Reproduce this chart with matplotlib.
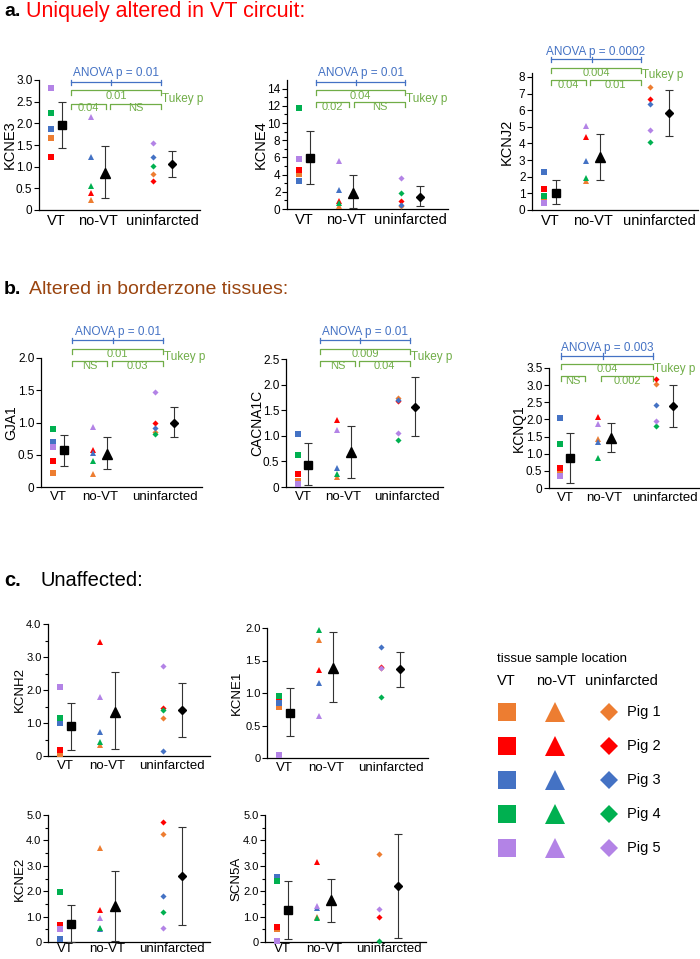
import numpy as np
import matplotlib
matplotlib.use('Agg')
import matplotlib.pyplot as plt
from matplotlib import transforms

plt.rcParams['font.family'] = ['Liberation Sans', 'DejaVu Sans']

W, H = 700, 959

groups = ['VT', 'no-VT', 'uninfarcted']
pigs = ['Pig 1', 'Pig 2', 'Pig 3', 'Pig 4', 'Pig 5']
pig_colors = ['#ED7D31', '#FF0000', '#4472C4', '#00B050', '#B383E6']
group_markers = ['s', '^', 'D']

# each gene: values per pig (Pig 1..5) for VT, no-VT, uninfarcted,
# then group mean and lower / upper end of the error bar
kcne3_pts = [[1.66, 1.22, 1.87, 2.24, 2.82],
             [0.23, 0.39, 1.22, 0.55, 2.15],
             [0.83, 0.68, 1.22, 1.02, 1.55]]
kcne3_mean = [1.96, 0.86, 1.06]
kcne3_lo = [1.43, 0.27, 0.77]
kcne3_hi = [2.49, 1.48, 1.37]

kcne4_pts = [[4.1, 4.5, 3.3, 11.8, 5.8],
             [0.35, 0.9, 2.2, 0.7, 5.6],
             [0.3, 0.95, 0.5, 1.85, 3.6]]
kcne4_mean = [5.95, 1.9, 1.4]
kcne4_lo = [2.9, 0.1, 0.35]
kcne4_hi = [9.1, 3.9, 2.65]

kcnj2_pts = [[0.65, 1.25, 2.3, 0.85, 0.4],
             [1.75, 4.4, 2.95, 1.9, 5.05],
             [7.4, 6.7, 6.4, 4.1, 4.8]]
kcnj2_mean = [1.05, 3.2, 5.85]
kcnj2_lo = [0.35, 1.8, 4.45]
kcnj2_hi = [1.8, 4.6, 7.2]

gja1_pts = [[0.22, 0.40, 0.69, 0.90, 0.62],
            [0.20, 0.57, 0.52, 0.41, 0.93],
            [0.85, 1.00, 0.92, 0.82, 1.47]]
gja1_mean = [0.57, 0.51, 1.0]
gja1_lo = [0.33, 0.28, 0.77]
gja1_hi = [0.81, 0.77, 1.24]

cacna1c_pts = [[0.12, 0.25, 1.03, 0.62, 0.05],
               [0.20, 1.30, 0.37, 0.25, 1.12],
               [1.74, 1.67, 1.70, 0.91, 1.06]]
cacna1c_mean = [0.43, 0.68, 1.57]
cacna1c_lo = [0.03, 0.17, 1.0]
cacna1c_hi = [0.85, 1.19, 2.15]

kcnq1_pts = [[0.50, 0.58, 2.03, 1.28, 0.35],
             [1.42, 2.06, 1.34, 0.87, 1.86],
             [3.02, 3.19, 2.41, 1.81, 1.95]]
kcnq1_mean = [0.87, 1.45, 2.38]
kcnq1_lo = [0.15, 1.04, 1.79]
kcnq1_hi = [1.59, 1.9, 2.99]

kcnh2_pts = [[0.06, 0.18, 1.0, 1.15, 2.08],
             [0.33, 3.45, 0.72, 0.43, 1.78],
             [1.14, 1.46, 0.15, 1.39, 2.72]]
kcnh2_mean = [0.9, 1.32, 1.39]
kcnh2_lo = [0.18, 0.2, 0.58]
kcnh2_hi = [1.62, 2.55, 2.22]

kcne1_pts = [[0.79, 0.88, 0.84, 0.96, 0.05],
             [1.81, 1.35, 1.15, 1.97, 0.65],
             [1.38, 1.40, 1.71, 0.94, 1.38]]
kcne1_mean = [0.70, 1.38, 1.37]
kcne1_lo = [0.34, 0.86, 1.1]
kcne1_hi = [1.08, 1.94, 1.63]

kcne2_pts = [[0.55, 0.65, 0.1, 1.95, 0.5],
             [3.7, 1.25, 0.5, 0.55, 0.95],
             [4.27, 4.73, 1.8, 1.2, 0.55]]
kcne2_mean = [0.7, 1.42, 2.6]
kcne2_lo = [0.0, 0.05, 0.65]
kcne2_hi = [1.45, 2.8, 4.54]

scn5a_pts = [[0.5, 0.6, 2.55, 2.4, 0.05],
             [1.0, 3.15, 1.35, 0.95, 1.4],
             [3.48, 1.0, np.nan, 0.05, 1.3]]
scn5a_mean = [1.25, 1.65, 2.2]
scn5a_lo = [0.1, 0.8, 0.15]
scn5a_hi = [2.4, 2.5, 4.25]

# statistics text
anova_labels = ['ANOVA p = 0.01', 'ANOVA p = 0.01', 'ANOVA p = 0.0002',
                'ANOVA p = 0.01', 'ANOVA p = 0.01', 'ANOVA p = 0.003']
tukey_outer = ['0.01', '0.04', '0.004', '0.01', '0.009', '0.04']
tukey_left = ['0.04', '0.02', '0.04', 'NS', 'NS', 'NS']
tukey_right = ['NS', 'NS', '0.01', '0.03', '0.04', '0.002']

# category centres and offsets of the pig points / mean marker
cx = np.array([1.0, 2.0, 3.55])
pt_off = np.array([-0.13, -0.17, -0.22])
mn_off = np.array([0.13, 0.17, 0.22])

fig = plt.figure(figsize=(W / 100, H / 100), dpi=100)

BLUE = '#4472C4'
GREEN = '#70AD47'


def add_ax(l, t, r, b):
    return fig.add_axes([l / W, 1 - b / H, (r - l) / W, (b - t) / H])


def draw_panel(ax, name, pts, mean, lo, hi, ylim, yticks, yticklabels,
               tick_fs, lab_fs, xfs, lab_x, minor=None, xpad=3):
    for g in range(3):
        for p in range(5):
            ax.plot(cx[g] + pt_off[g], pts[g][p], ls='none',
                    marker=group_markers[g], color=pig_colors[p],
                    ms=[4.0, 4.6, 3.1][g], mew=0, clip_on=False, zorder=3)
        ax.errorbar(cx[g] + mn_off[g], mean[g],
                    yerr=[[mean[g] - lo[g]], [hi[g] - mean[g]]],
                    fmt=group_markers[g], color='black', ms=[6.4, 7.2, 4.4][g],
                    ecolor='#333333', elinewidth=0.8, capsize=3, capthick=0.8,
                    clip_on=False, zorder=4)
    ax.set_xlim(0.58, 4.45)
    ax.set_ylim(*ylim)
    ax.set_yticks(yticks)
    ax.set_yticklabels(yticklabels, fontsize=tick_fs)
    if minor is not None:
        ax.set_yticks(minor, minor=True)
    ax.set_xticks(cx)
    ax.set_xticklabels(groups, fontsize=xfs)
    ax.tick_params(axis='x', length=0, pad=xpad)
    ax.tick_params(axis='y', which='both', direction='out', length=3.5,
                   width=0.8, pad=1.2)
    ax.tick_params(axis='y', which='minor', length=2)
    for s in ['top', 'right']:
        ax.spines[s].set_visible(False)
    for s in ['left', 'bottom']:
        ax.spines[s].set_linewidth(0.9)
    ax.set_ylabel(name, fontsize=lab_fs, va='center')
    tr = transforms.blended_transform_factory(fig.transFigure, ax.transAxes)
    ax.yaxis.set_label_coords(lab_x / W, 0.5, transform=tr)
    ax.patch.set_alpha(0)


def stats(ax, i, xs, ys):
    # xs: left, middle, right, end of left inner, start of right inner (data)
    # ys: anova text, anova line, outer line, outer text, inner line, inner text, tukey (px)
    tr = transforms.blended_transform_factory(ax.transData, fig.transFigure)
    fy = lambda v: 1 - v / H
    x0, xm, x1, ie, is_ = xs
    ya, yal, yo, yot, yi, yit, ytk = ys
    kw = dict(transform=tr, clip_on=False, lw=0.9)
    ax.plot([x0, x1], [fy(yal)] * 2, color=BLUE, **kw)
    for x in (x0, xm, x1):
        ax.plot([x, x], [fy(yal - 2.5), fy(yal + 2.5)], color=BLUE, **kw)
    ax.text((x0 + x1) / 2, fy(ya), anova_labels[i], color=BLUE, fontsize=8.5,
            ha='center', va='center', transform=tr)
    for a, b, yy in ((x0, x1, yo), (x0, ie, yi), (is_, x1, yi)):
        ax.plot([a, a, b, b], [fy(yy + 5), fy(yy), fy(yy), fy(yy + 5)],
                color=GREEN, **kw)
    ax.text((x0 + x1) / 2, fy(yot), tukey_outer[i], color=GREEN, fontsize=8,
            ha='center', va='center', transform=tr)
    ax.text((x0 + ie) / 2, fy(yit), tukey_left[i], color=GREEN, fontsize=8,
            ha='center', va='center', transform=tr)
    ax.text((is_ + x1) / 2, fy(yit), tukey_right[i], color=GREEN, fontsize=8,
            ha='center', va='center', transform=tr)
    ax.text(x1 + 0.03, fy(ytk), 'Tukey p', color=GREEN, fontsize=8.5,
            ha='left', va='center', transform=tr)


ab_tick = 8.5
# row a
ax = add_ax(39, 80, 200, 210)
draw_panel(ax, 'KCNE3', kcne3_pts, kcne3_mean, kcne3_lo, kcne3_hi, (0, 3.0),
           [0, 0.5, 1, 1.5, 2, 2.5, 3], ['0', '0.5', '1.0', '1.5', '2.0', '2.5', '3.0'],
           ab_tick, 10.5, 10.5, 10)
stats(ax, 0, (1.35, 2.31, 3.51, 2.19, 2.29), (73, 82, 90, 96, 104, 108, 99))

ax = add_ax(287, 80, 448, 209)
draw_panel(ax, 'KCNE4', kcne4_pts, kcne4_mean, kcne4_lo, kcne4_hi, (0, 15),
           list(range(0, 15, 2)), [str(v) for v in range(0, 15, 2)],
           ab_tick, 10.5, 10.5, 261, minor=list(range(1, 15, 2)))
stats(ax, 1, (1.28, 2.24, 3.42, 2.07, 2.19), (73, 82, 90, 96, 102, 107, 99))

ax = add_ax(532, 73, 698, 210)
draw_panel(ax, 'KCNJ2', kcnj2_pts, kcnj2_mean, kcnj2_lo, kcnj2_hi, (0, 8.24),
           list(range(0, 9)), [str(v) for v in range(0, 9)],
           ab_tick, 10.5, 10.5, 507)
stats(ax, 2, (1.02, 1.98, 3.12, 1.84, 1.93), (52, 59, 68, 73, 80, 85, 75))

# row b
ax = add_ax(41, 358, 202, 487)
draw_panel(ax, 'GJA1', gja1_pts, gja1_mean, gja1_lo, gja1_hi, (0, 2.0),
           [0, 0.5, 1, 1.5, 2], ['0', '0.5', '1.0', '1.5', '2.0'],
           8.5, 10, 9.5, 11)
stats(ax, 3, (1.33, 2.31, 3.51, 2.17, 2.29), (332, 340, 349, 354, 361, 366, 357))

ax = add_ax(286, 359, 443, 487)
draw_panel(ax, 'CACNA1C', cacna1c_pts, cacna1c_mean, cacna1c_lo, cacna1c_hi,
           (0, 2.5), [0, 0.5, 1, 1.5, 2, 2.5],
           ['0', '0.5', '1.0', '1.5', '2.0', '2.5'], 8.5, 10, 9.5, 257)
stats(ax, 4, (1.42, 2.41, 3.63, 2.29, 2.38), (332, 340, 349, 354, 361, 366, 357))

ax = add_ax(549, 368, 700, 488)
draw_panel(ax, 'KCNQ1', kcnq1_pts, kcnq1_mean, kcnq1_lo, kcnq1_hi, (0, 3.5),
           [0, 0.5, 1, 1.5, 2, 2.5, 3, 3.5],
           ['0', '0.5', '1.0', '1.5', '2.0', '2.5', '3.0', '3.5'], 8.5, 10, 9.5, 519)
stats(ax, 5, (0.89, 1.96, 3.25, 1.50, 1.91), (348, 356, 364, 369, 376, 381, 369))

# row c
c_tick = 8
ax = add_ax(48, 624, 210, 756)
draw_panel(ax, 'KCNH2', kcnh2_pts, kcnh2_mean, kcnh2_lo, kcnh2_hi, (0, 4.0),
           [0, 1, 2, 3, 4], ['0', '1.0', '2.0', '3.0', '4.0'], c_tick, 9.5, 9.5, 20,
           minor=[0.5, 1.5, 2.5, 3.5])

ax = add_ax(267, 628, 428, 758)
draw_panel(ax, 'KCNE1', kcne1_pts, kcne1_mean, kcne1_lo, kcne1_hi, (0, 2.0),
           [0, 0.5, 1, 1.5, 2], ['0', '0.5', '1.0', '1.5', '2.0'], c_tick, 9.5, 9.5, 237)

ax = add_ax(48, 815, 210, 942)
draw_panel(ax, 'KCNE2', kcne2_pts, kcne2_mean, kcne2_lo, kcne2_hi, (0, 5.0),
           [0, 1, 2, 3, 4, 5], ['0', '1.0', '2.0', '3.0', '4.0', '5.0'], c_tick, 9.5, 9.5, 20,
           minor=[0.5, 1.5, 2.5, 3.5, 4.5], xpad=1)

ax = add_ax(265, 815, 426, 942)
draw_panel(ax, 'SCN5A', scn5a_pts, scn5a_mean, scn5a_lo, scn5a_hi, (0, 5.0),
           [0, 1, 2, 3, 4, 5], ['0', '1.0', '2.0', '3.0', '4.0', '5.0'], c_tick, 9.5, 9.5, 236,
           minor=[0.5, 1.5, 2.5, 3.5, 4.5], xpad=1)

# overlay in pixel units for headings and legend
ov = fig.add_axes([0, 0, 1, 1], zorder=-1)
ov.set_xlim(0, W)
ov.set_ylim(H, 0)
ov.axis('off')

ov.text(4, 12, 'a.', fontsize=14, fontweight='bold', va='center')
ov.text(26, 12, 'Uniquely altered in VT circuit:', fontsize=15.5, color='#FF0000', va='center')
ov.text(4, 289, 'b.', fontsize=14, fontweight='bold', va='center')
ov.text(29, 289, 'Altered in borderzone tissues:', fontsize=14, color='#9A4510', va='center')
ov.text(4, 580, 'c.', fontsize=14.5, fontweight='bold', va='center')
ov.text(40, 580, 'Unaffected:', fontsize=14.5, color='black', va='center')

ov.text(497, 659, 'tissue sample location', fontsize=9.5, va='center')
for x, s in zip([497, 536, 585], groups):
    ov.text(x, 681, s, fontsize=10.5, va='center')
leg_x = [507, 555, 609]
leg_ms = [13.5, 14.5, 9.5]
for p in range(5):
    y = 712 + 34 * p
    for g in range(3):
        ov.plot(leg_x[g], y, marker=group_markers[g], color=pig_colors[p],
                ms=leg_ms[g], mew=0, ls='none')
    ov.text(627, y, pigs[p], fontsize=10.5, va='center')

fig.savefig('out.png', dpi=100)
